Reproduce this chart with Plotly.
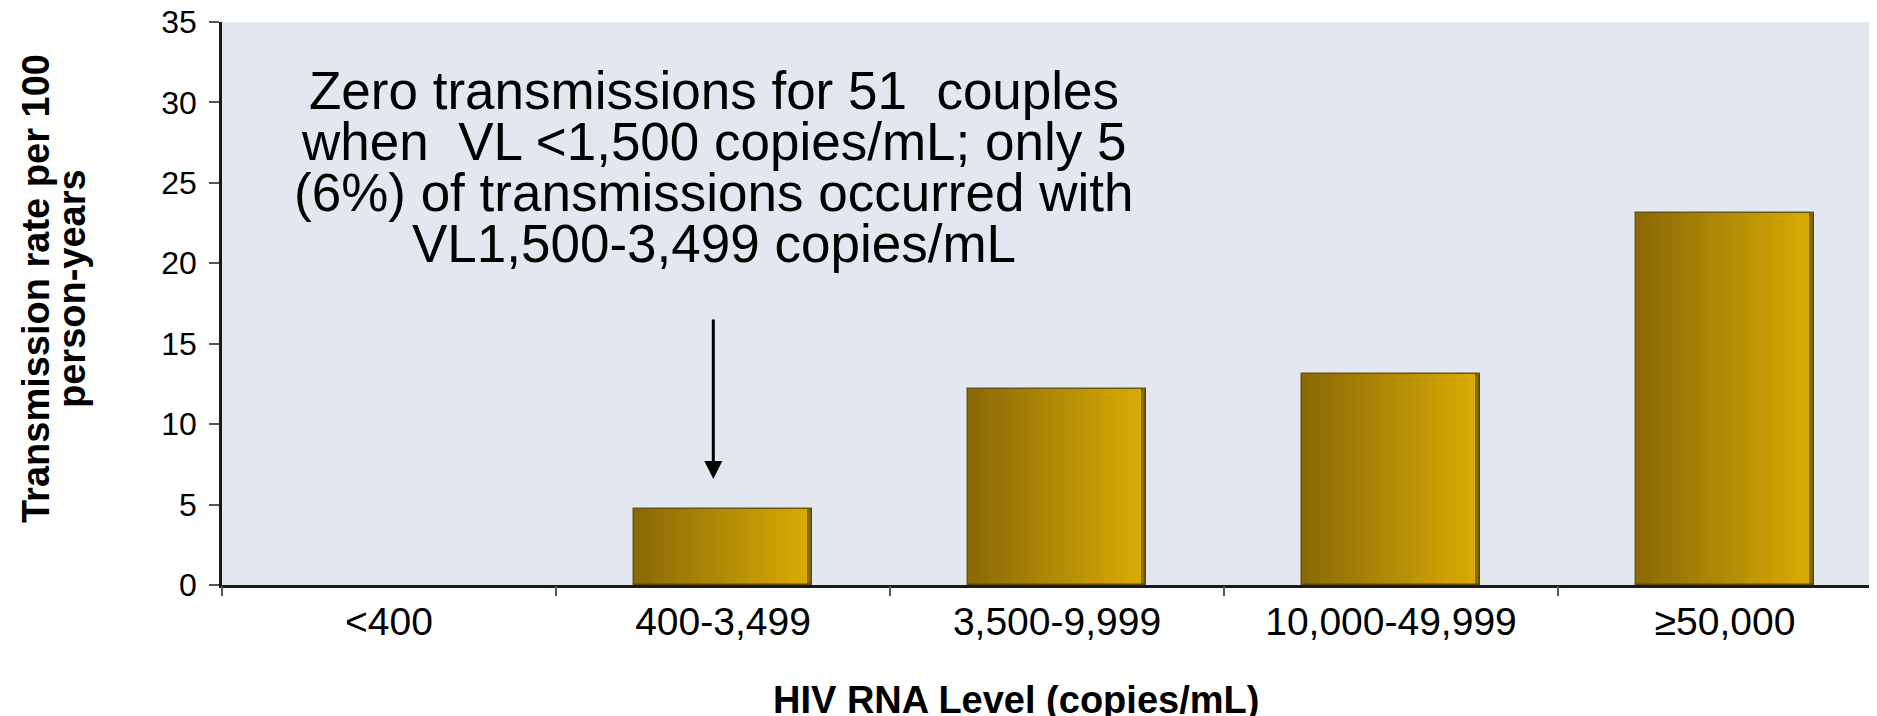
import plotly.graph_objects as go

# ---- data ----
categories = ["<400", "400-3,499", "3,500-9,999", "10,000-49,999", "≥50,000"]
rates = [0, 4.7, 12.2, 13.1, 23.1]
y_ticks = [0, 5, 10, 15, 20, 25, 30, 35]
note_lines = [
    "Zero transmissions for 51  couples",
    "when  VL <1,500 copies/mL; only 5",
    "(6%) of transmissions occurred with",
    "VL1,500-3,499 copies/mL",
]
note_line_y = [30.75, 27.55, 24.4, 21.2]
x_title = "HIV RNA Level (copies/mL)"
y_title_lines = ["Transmission rate per 100", "person-years"]

# ---- style ----
FONT = "Arial, Liberation Sans, sans-serif"
BAR_W = 0.533
N_SLICES = 30
dark = (0x8A, 0x6A, 0x06)
light = (0xDA, 0xAB, 0x04)

# page body has an 8px margin: lay out in page pixels minus 8
OFF = 8
W, H = 1877 - OFF, 716 - OFF
ML, MT = 222 - OFF, 22 - OFF
PLOT_BOTTOM = 585 - OFF
MB = H - PLOT_BOTTOM
plot_w = W - ML
plot_h = PLOT_BOTTOM - MT
cat_px = 334.0
x_max = -0.5 + plot_w / cat_px


def px_x(p):  # reference page pixel -> paper x
    return (p - OFF - ML) / plot_w


def px_y(p):  # reference page pixel -> paper y
    return (PLOT_BOTTOM - (p - OFF)) / plot_h


xs = list(range(len(categories)))

fig = go.Figure()

# gradient: successively narrower bars anchored at the right edge
for i in range(N_SLICES):
    t = i / (N_SLICES - 1)
    c = tuple(int(round(dark[k] + (light[k] - dark[k]) * t)) for k in range(3))
    w = BAR_W * (1 - i / N_SLICES)
    fig.add_trace(go.Bar(
        x=xs, y=rates, width=[w] * len(xs), offset=[BAR_W / 2 - w] * len(xs),
        marker=dict(color="rgb(%d,%d,%d)" % c, line=dict(width=0)),
        showlegend=False, hoverinfo="skip",
    ))

# right-side bevel shade
shade_w = 5 / cat_px
fig.add_trace(go.Bar(
    x=xs, y=rates, width=[shade_w] * len(xs), offset=[BAR_W / 2 - shade_w] * len(xs),
    marker=dict(color="rgba(70,52,0,0.55)", line=dict(width=0)),
    showlegend=False, hoverinfo="skip",
))
# outline (none on zero-height bars)
fig.add_trace(go.Bar(
    x=xs, y=rates, width=[BAR_W] * len(xs), offset=[-BAR_W / 2] * len(xs),
    marker=dict(color="rgba(0,0,0,0)",
                line=dict(width=[1.5 if v > 0 else 0 for v in rates],
                          color="rgba(90,70,0,0.9)")),
    showlegend=False, hoverinfo="skip",
))

annotations = []
for line, yy in zip(note_lines, note_line_y):
    annotations.append(dict(
        x=0.973, y=yy, xref="x", yref="y", text=line, showarrow=False,
        xanchor="center", yanchor="middle",
        font=dict(family=FONT, size=53, color="black"),
    ))
# arrow
annotations.append(dict(
    x=0.971, y=6.59, xref="x", yref="y", ax=0.971, ay=16.6, axref="x", ayref="y",
    text="", showarrow=True, arrowhead=2, arrowsize=1.2, arrowwidth=3,
    arrowcolor="black", standoff=0, startstandoff=0,
))
# x title
annotations.append(dict(
    x=px_x(1016), y=px_y(700), xref="paper", yref="paper",
    text="<b>%s</b>" % x_title, showarrow=False, xanchor="center", yanchor="middle",
    font=dict(family=FONT, size=38, color="black"),
))
# y title, two lines placed individually
for line, cx in zip(y_title_lines, [36, 72]):
    annotations.append(dict(
        x=px_x(cx), y=px_y(289), xref="paper", yref="paper",
        text="<b>%s</b>" % line, showarrow=False, xanchor="center", yanchor="middle",
        textangle=-90, font=dict(family=FONT, size=38, color="black"),
    ))

fig.update_layout(
    width=W, height=H,
    margin=dict(l=ML, r=0, t=MT, b=MB, autoexpand=False),
    paper_bgcolor="white", plot_bgcolor="#E3E8F0",
    barmode="overlay", bargap=0,
    annotations=annotations,
    xaxis=dict(
        type="linear", range=[-0.5, x_max],
        tickmode="array", tickvals=xs, ticktext=categories,
        showgrid=False, zeroline=False,
        showline=True, linecolor="#1a1a1a", linewidth=3,
        ticks="", tickfont=dict(family=FONT, size=39, color="black"),
        ticklabelstandoff=0, ticklabeloverflow="allow",
    ),
    xaxis2=dict(
        overlaying="x", range=[-0.5, x_max], tickmode="array",
        tickvals=[i - 0.5 for i in range(len(categories) + 1)],
        ticks="outside", ticklen=10, tickwidth=2, tickcolor="#555",
        showticklabels=False, showgrid=False, zeroline=False, showline=False,
        anchor="y",
    ),
    yaxis=dict(
        range=[0, 35], tickmode="array", tickvals=y_ticks,
        showgrid=False, zeroline=False,
        showline=True, linecolor="#1a1a1a", linewidth=2.5,
        ticks="outside", ticklen=10, tickwidth=2, tickcolor="#555",
        tickfont=dict(family=FONT, size=32, color="black"),
        ticklabelstandoff=6, ticklabeloverflow="allow",
    ),
)
# empty trace so the boundary ticks on xaxis2 are drawn
fig.add_trace(go.Scatter(x=[None], y=[None], xaxis="x2", showlegend=False, hoverinfo="skip"))

fig.write_html("out.html")
